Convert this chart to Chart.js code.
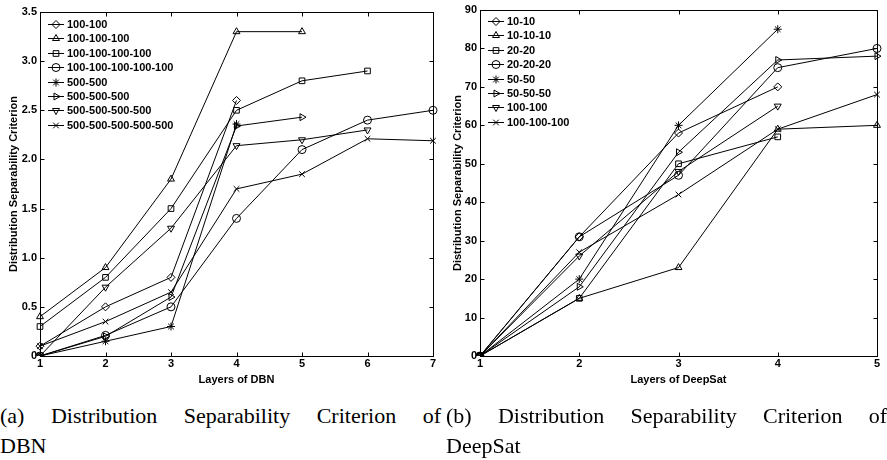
<!DOCTYPE html>
<html>
<head>
<meta charset="utf-8">
<script src="https://cdn.jsdelivr.net/npm/chart.js@4.4.0/dist/chart.umd.min.js"></script>
<style>
    body { margin: 0; background: #fff; }
    #wrap { position: relative; width: 887px; height: 460px; overflow: hidden; }
    #wrap canvas { position: absolute; top: 0; }
    .cap { position: absolute; top: 401px; width: 441px; font-family: "Liberation Serif", "Times New Roman", serif; font-size: 22px; line-height: 30px; color: #000; }
    .cap .l1 { text-align: justify; text-align-last: justify; }
</style>
</head>
<body>
<div id="wrap">
    <canvas id="dbnChart" width="445" height="395" style="left:0"></canvas>
    <canvas id="satChart" width="447" height="395" style="left:440px"></canvas>
    <div class="cap" style="left:0"><div class="l1">(a) Distribution Separability Criterion of</div><div>DBN</div></div>
    <div class="cap" style="left:446px"><div class="l1">(b) Distribution Separability Criterion of</div><div>DeepSat</div></div>
</div>
<script>
// --- (a) DBN ---
const dbnLayers = ["1", "2", "3", "4", "5", "6", "7"];
const dbnNames = ["100-100", "100-100-100", "100-100-100-100", "100-100-100-100-100",
                  "500-500", "500-500-500", "500-500-500-500", "500-500-500-500-500"];
const dbn100x2 = [0.1, 0.5, 0.8, 2.6];
const dbn100x3 = [0.4, 0.9, 1.8, 3.3, 3.3];
const dbn100x4 = [0.3, 0.8, 1.5, 2.5, 2.8, 2.9];
const dbn100x5 = [0, 0.21, 0.5, 1.4, 2.1, 2.4, 2.5];
const dbn500x2 = [0, 0.15, 0.3, 2.36];
const dbn500x3 = [0, 0.2, 0.6, 2.34, 2.43];
const dbn500x4 = [0, 0.7, 1.3, 2.14, 2.2, 2.3];
const dbn500x5 = [0.1, 0.35, 0.65, 1.7, 1.85, 2.21, 2.19];
const dbnYTicks = [0, 0.5, 1, 1.5, 2, 2.5, 3, 3.5];

// --- (b) DeepSat ---
const satLayers = ["1", "2", "3", "4", "5"];
const satNames = ["10-10", "10-10-10", "20-20", "20-20-20", "50-50", "50-50-50", "100-100", "100-100-100"];
const sat10x2 = [0, 31, 58, 70];
const sat10x3 = [0, 15, 23, 59, 60];
const sat20x2 = [0, 15, 50, 57];
const sat20x3 = [0, 31, 47, 75, 80];
const sat50x2 = [0, 20, 60, 85];
const sat50x3 = [0, 18, 53, 77, 78];
const sat100x2 = [0, 26, 48, 65];
const sat100x3 = [0, 27, 42, 59, 68];
const satYTicks = [0, 10, 20, 30, 40, 50, 60, 70, 80, 90];

// matlab-ish marker order: diamond, ^, square, o, *, >, v, x
const markers = [
    { style: "rectRot", rot: 0 },
    { style: "triangle", rot: 0 },
    { style: "rect", rot: 0 },
    { style: "circle", rot: 0 },
    { style: "star", rot: 0 },
    { style: "triangle", rot: 90 },
    { style: "triangle", rot: 180 },
    { style: "crossRot", rot: 0 }
];

const FONT = "'Liberation Sans', Arial, Helvetica, sans-serif";
Chart.defaults.font.family = FONT;
Chart.defaults.color = "#000";

function drawMarker(ctx, style, rot, x, y) {
    if (Chart.helpers && Chart.helpers.drawPoint) {
        Chart.helpers.drawPoint(ctx, { pointStyle: style, rotation: rot, radius: 4, borderWidth: 1 }, x, y);
    }
}

// box around the plot + inward ticks on all four sides
const frameTicks = {
    id: "frameTicks",
    afterDatasetsDraw(chart) {
        const { ctx, chartArea: a, scales: { x, y } } = chart;
        const L = Math.round(a.left) + 0.5, R = Math.round(a.right) + 0.5;
        const T = Math.round(a.top) + 0.5, B = Math.round(a.bottom) + 0.5;
        ctx.save();
        ctx.strokeStyle = "#000";
        ctx.lineWidth = 1;
        ctx.strokeRect(L, T, R - L, B - T);
        ctx.beginPath();
        x.ticks.forEach((t, i) => {
            const px = Math.round(x.getPixelForTick(i)) + 0.5;
            ctx.moveTo(px, B); ctx.lineTo(px, B - 4);
            ctx.moveTo(px, T); ctx.lineTo(px, T + 4);
        });
        y.ticks.forEach((t, i) => {
            const py = Math.round(y.getPixelForTick(i)) + 0.5;
            ctx.moveTo(L, py); ctx.lineTo(L + 4, py);
            ctx.moveTo(R, py); ctx.lineTo(R - 4, py);
        });
        ctx.stroke();
        ctx.restore();
    }
};

// legend inside the plot, top-left
const innerLegend = {
    id: "innerLegend",
    afterDraw(chart, args, opts) {
        const { ctx, chartArea: a } = chart;
        const x0 = a.left + 8;
        ctx.save();
        ctx.strokeStyle = "#000";
        ctx.lineWidth = 1;
        ctx.font = "bold 11px " + FONT;
        ctx.textBaseline = "middle";
        chart.data.datasets.forEach((ds, i) => {
            const yy = Math.round(a.top + opts.top + i * 14.4) + 0.5;
            ctx.beginPath();
            ctx.moveTo(x0, yy); ctx.lineTo(x0 + 16, yy);
            ctx.stroke();
            ctx.fillStyle = "rgba(0,0,0,0)";
            drawMarker(ctx, ds.pointStyle, ds.pointRotation, x0 + 8, yy);
            ctx.fillStyle = "#000";
            ctx.fillText(ds.label, x0 + 19, yy + 0.5);
        });
        ctx.restore();
    }
};

function buildDatasets(names, series) {
    return series.map((vals, i) => ({
        label: names[i],
        data: vals,
        borderColor: "#000",
        borderWidth: 1,
        backgroundColor: "rgba(0,0,0,0)",
        fill: false,
        tension: 0,
        pointStyle: markers[i].style,
        pointRotation: markers[i].rot,
        pointRadius: 4,
        pointBorderWidth: 1,
        pointBorderColor: "#000",
        pointBackgroundColor: "rgba(0,0,0,0)"
    }));
}

function makeChart(id, labels, names, series, yTicks, xTitle, pad, titlePadY, legendTop) {
    const tickFont = { size: 11, weight: "bold" };
    return new Chart(document.getElementById(id), {
        type: "line",
        data: { labels: labels, datasets: buildDatasets(names, series) },
        options: {
            responsive: false,
            animation: false,
            layout: { padding: pad },
            plugins: {
                legend: { display: false },
                tooltip: { enabled: false },
                innerLegend: { top: legendTop }
            },
            scales: {
                x: {
                    type: "category",
                    offset: false,
                    grid: { display: false, drawTicks: false },
                    border: { display: false },
                    ticks: { font: tickFont, padding: 1, maxRotation: 0, color: "#000" },
                    title: { display: true, text: xTitle, font: tickFont, color: "#000", padding: { top: 0, bottom: 8 } },
                    afterFit(scale) { scale.height = 39; }
                },
                y: {
                    type: "linear",
                    min: yTicks[0],
                    max: yTicks[yTicks.length - 1],
                    grid: { display: false, drawTicks: false },
                    border: { display: false },
                    ticks: { font: tickFont, padding: 3, color: "#000" },
                    afterBuildTicks(scale) { scale.ticks = yTicks.map(v => ({ value: v })); },
                    title: { display: true, text: "Distribution Separability Criterion", font: tickFont, color: "#000", padding: { top: titlePadY, bottom: 0 } },
                    afterFit(scale) { scale.width = 40; }
                }
            }
        },
        plugins: [frameTicks, innerLegend]
    });
}

makeChart("dbnChart", dbnLayers, dbnNames,
    [dbn100x2, dbn100x3, dbn100x4, dbn100x5, dbn500x2, dbn500x3, dbn500x4, dbn500x5],
    dbnYTicks, "Layers of DBN", { top: 12, right: 12, left: 0, bottom: 0 }, 7, 12);

makeChart("satChart", satLayers, satNames,
    [sat10x2, sat10x3, sat20x2, sat20x3, sat50x2, sat50x3, sat100x2, sat100x3],
    satYTicks, "Layers of DeepSat", { top: 10, right: 10, left: 0, bottom: 0 }, 11, 11);
</script>
</body>
</html>
